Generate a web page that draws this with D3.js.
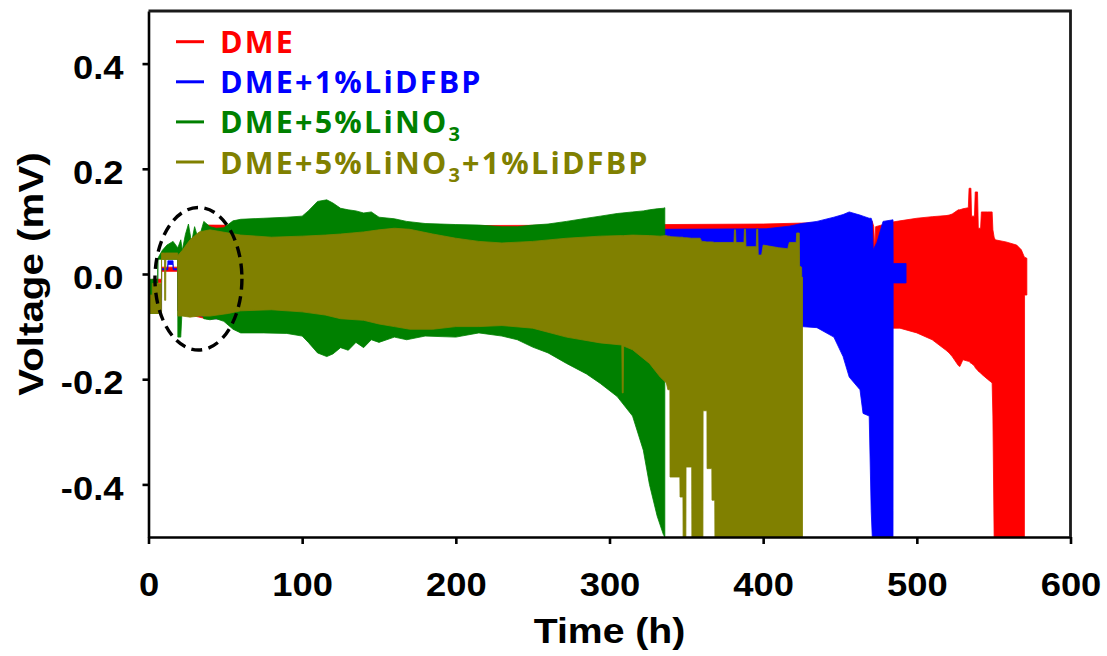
<!DOCTYPE html>
<html>
<head>
<meta charset="utf-8">
<script src="https://cdn.jsdelivr.net/npm/d3@7"></script>
<style>
  html, body { margin: 0; padding: 0; background: #ffffff; }
  svg { display: block; }
</style>
</head>
<body>
<svg id="chart" width="1107" height="656"></svg>
<script>
// ---- data -------------------------------------------------------------
// Each cycling trace is stored as its voltage envelope: [time (h), upper (mV), lower (mV)]
const seriesNames  = ["DME", "DME+1%LiDFBP", "DME+5%LiNO3", "DME+5%LiNO3+1%LiDFBP"];
const seriesColors = ["#ff0000", "#0000ff", "#008000", "#808000"];

const xTicks = [0, 100, 200, 300, 400, 500, 600];
const yTicks = [-0.4, -0.2, 0.0, 0.2, 0.4];
const xTickLabels = ["0", "100", "200", "300", "400", "500", "600"];
const yTickLabels = ["-0.4", "-0.2", "0.0", "0.2", "0.4"];

const dmeEnvelope = [
  [0, -0.012, -0.04], [2.5, -0.012, -0.04], [2.5, -0.01, -0.016], [8.5, -0.01, -0.016],
  [8.5, 0.013, 0.005], [19, 0.013, 0.005], [19.2, 0.02, -0.07], [30, 0.06, -0.08],
  [37.5, 0.07, -0.085], [38, 0.093, -0.085], [100, 0.092, -0.085], [200, 0.092, -0.09],
  [300, 0.093, -0.09], [336, 0.094, -0.09], [400, 0.095, -0.09], [470, 0.1, -0.09],
  [471, 0.1, -0.09], [472, 0.09, -0.09], [472.6, 0.046, -0.09], [473.2, 0.09, -0.09],
  [484.5, 0.099, -0.103], [489, 0.101, -0.103], [500, 0.106, -0.112], [510, 0.109, -0.125],
  [519, 0.111, -0.145], [521, 0.112, -0.15], [523, 0.114, -0.157], [527, 0.122, -0.174],
  [528, 0.122, -0.176], [530, 0.124, -0.163], [533.5, 0.126, -0.166], [534, 0.163, -0.166],
  [535.2, 0.163, -0.17], [535.6, 0.11, -0.17], [537.5, 0.11, -0.175], [538, 0.156, -0.178],
  [539.5, 0.156, -0.183], [540, 0.087, -0.185], [541.5, 0.087, -0.188], [542, 0.118, -0.19],
  [546, 0.118, -0.2], [549, 0.118, -0.207], [549.5, 0.084, -0.27], [550.3, 0.07, -0.5],
  [551, 0.065, -0.5], [558, 0.061, -0.5], [565, 0.055, -0.5], [568, 0.046, -0.5],
  [570, 0.032, -0.5], [570.1, 0.032, -0.04], [571.6, 0.03, -0.04]
];

const lidfbpEnvelope = [
  [0, -0.045, -0.07], [8.5, -0.045, -0.07], [8.5, 0.01, 0.008], [12.5, 0.01, 0.008],
  [12.6, 0.025, 0.018], [16, 0.025, 0.018], [16.1, 0.01, 0.008], [19, 0.01, 0.008],
  [19.2, 0.03, -0.07], [38, 0.07, -0.082], [40, 0.085, -0.085], [200, 0.085, -0.09],
  [336, 0.085, -0.095], [402, 0.086, -0.098], [417, 0.091, -0.1], [425, 0.096, -0.1],
  [435, 0.1, -0.102], [446, 0.108, -0.12], [452, 0.113, -0.157], [456, 0.118, -0.196],
  [463, 0.112, -0.22], [465, 0.11, -0.265], [469, 0.106, -0.27], [470.3, 0.106, -0.45],
  [471, 0.1, -0.5], [471.6, 0.046, -0.5], [474, 0.06, -0.5], [478, 0.1, -0.5],
  [484.5, 0.103, -0.5], [484.6, 0.02, -0.017], [493, 0.02, -0.017]
];

const linoEnvelope = [
  [0, -0.01, -0.075], [6, -0.01, -0.075], [6.1, 0.03, 0.028], [9, 0.045, 0.028],
  [12, 0.055, 0.028], [16, 0.062, 0.028], [19, 0.05, 0.028], [19.1, 0.05, -0.12],
  [21, 0.065, -0.12], [22, 0.045, -0.06], [24, 0.075, -0.065], [26, 0.095, -0.055],
  [28, 0.06, -0.06], [30, 0.09, -0.06], [32, 0.07, -0.06], [34, 0.08, -0.07],
  [36, 0.1, -0.085], [40, 0.09, -0.087], [44, 0.087, -0.085], [49, 0.088, -0.09],
  [55, 0.101, -0.105], [60, 0.104, -0.112], [75, 0.106, -0.112], [90, 0.108, -0.113],
  [100, 0.11, -0.118], [104, 0.12, -0.13], [110, 0.138, -0.15], [116, 0.141, -0.157],
  [120, 0.135, -0.152], [125, 0.125, -0.14], [130, 0.122, -0.145], [135, 0.12, -0.13],
  [140, 0.116, -0.14], [145, 0.118, -0.125], [150, 0.108, -0.13], [160, 0.105, -0.12],
  [168, 0.1, -0.125], [180, 0.096, -0.118], [200, 0.094, -0.12], [215, 0.093, -0.112],
  [230, 0.09, -0.118], [240, 0.09, -0.125], [250, 0.093, -0.139], [260, 0.095, -0.15],
  [272, 0.1, -0.17], [285, 0.106, -0.19], [294, 0.11, -0.208], [305, 0.115, -0.233],
  [315, 0.118, -0.27], [322, 0.12, -0.335], [326, 0.122, -0.4], [331, 0.124, -0.46],
  [335, 0.125, -0.495], [336, 0.126, -0.5]
];

const comboEnvelope = [
  [0, -0.04, -0.075], [2.5, -0.04, -0.075], [2.5, -0.018, -0.075], [8.5, -0.018, -0.075],
  [8.5, 0.04, 0.028], [10.4, 0.04, 0.028], [10.5, 0.04, -0.05], [11.2, 0.04, -0.05],
  [11.3, 0.04, 0.028], [19, 0.04, 0.028], [19.1, 0.035, -0.08], [22, 0.045, -0.08],
  [27, 0.065, -0.082], [33, 0.08, -0.08], [40, 0.084, -0.08], [52, 0.078, -0.075],
  [60, 0.074, -0.07], [80, 0.07, -0.068], [100, 0.072, -0.072], [115, 0.074, -0.078],
  [125, 0.076, -0.085], [140, 0.08, -0.088], [150, 0.084, -0.095], [160, 0.087, -0.1],
  [170, 0.085, -0.105], [185, 0.076, -0.105], [200, 0.068, -0.1], [215, 0.062, -0.1],
  [230, 0.059, -0.098], [250, 0.062, -0.103], [272, 0.068, -0.12], [294, 0.072, -0.131],
  [308, 0.073, -0.135], [308.3, 0.073, -0.226], [308.9, 0.073, -0.226], [309.2, 0.073, -0.137],
  [315, 0.074, -0.144], [326, 0.073, -0.17], [333, 0.072, -0.196], [337, 0.073, -0.207],
  [338, 0.072, -0.22], [339.3, 0.072, -0.22], [339.4, 0.071, -0.386], [345.8, 0.07, -0.386],
  [345.9, 0.07, -0.424], [347.8, 0.07, -0.424], [347.9, 0.069, -0.5], [349.7, 0.069, -0.5],
  [349.8, 0.069, -0.367], [353.5, 0.068, -0.367], [353.6, 0.068, -0.5], [359, 0.068, -0.5],
  [360, 0.062, -0.5], [360.8, 0.062, -0.5], [360.9, 0.062, -0.26], [363.4, 0.061, -0.26],
  [363.5, 0.061, -0.37], [366.6, 0.061, -0.37], [366.7, 0.061, -0.43], [368.5, 0.06, -0.43],
  [368.6, 0.06, -0.5], [381, 0.06, -0.5], [381.3, 0.084, -0.5], [382, 0.084, -0.5],
  [382.3, 0.06, -0.5], [387.5, 0.06, -0.5], [387.8, 0.085, -0.5], [388.5, 0.085, -0.5],
  [388.8, 0.052, -0.5], [395.5, 0.052, -0.5], [395.8, 0.085, -0.5], [396.5, 0.085, -0.5],
  [396.8, 0.036, -0.5], [399, 0.036, -0.5], [400, 0.055, -0.5], [410, 0.05, -0.5],
  [416, 0.048, -0.5], [417, 0.06, -0.5], [421.5, 0.06, -0.5], [421.8, 0.078, -0.5],
  [423.5, 0.078, -0.5], [423.7, 0.015, -0.5], [425, 0.013, -0.5], [425.1, -0.005, -0.5],
  [425.6, -0.006, -0.5]
];

const envelopes = [dmeEnvelope, lidfbpEnvelope, linoEnvelope, comboEnvelope];

// dashed ellipse marking the early-cycle region: centre (h, mV) and radii (h, mV)
const markCenter = [32.5, -0.009];
const markRadius = [28.3, 0.1355];

// ---- layout -----------------------------------------------------------
const svg = d3.select("#chart");
const plot = { left: 148.5, right: 1070.5, top: 11, bottom: 537 };

const x = d3.scaleLinear().domain([0, 600]).range([plot.left, plot.right]);
const y = d3.scaleLinear().domain([-0.5, 0.5]).range([plot.bottom, plot.top]);

svg.append("defs").append("clipPath").attr("id", "plot-clip")
  .append("rect")
  .attr("x", plot.left).attr("y", plot.top)
  .attr("width", plot.right - plot.left).attr("height", plot.bottom - plot.top);

// ---- envelopes --------------------------------------------------------
const area = d3.area()
  .x(d => x(d[0]))
  .y0(d => y(d[2]))
  .y1(d => y(d[1]))
  .curve(d3.curveLinear);

const traces = svg.append("g").attr("clip-path", "url(#plot-clip)");
envelopes.forEach((env, i) => {
  traces.append("path")
    .datum(env)
    .attr("d", area)
    .attr("fill", seriesColors[i])
    .attr("stroke", seriesColors[i])
    .attr("stroke-width", 0.8)
    .attr("stroke-linejoin", "miter");
});

// dashed ellipse
svg.append("ellipse")
  .attr("cx", x(markCenter[0]))
  .attr("cy", y(markCenter[1]))
  .attr("rx", x(markRadius[0]) - x(0))
  .attr("ry", y(0) - y(markRadius[1]))
  .attr("fill", "none")
  .attr("stroke", "#000")
  .attr("stroke-width", 3.4)
  .attr("stroke-dasharray", "11 6.5");

// ---- axes -------------------------------------------------------------
const tickFont = "'Liberation Sans', Arial, sans-serif";
const stretch = 1.12;

const xAxis = svg.append("g")
  .attr("transform", `translate(0,${plot.bottom})`)
  .call(d3.axisBottom(x).tickValues(xTicks).tickSize(7).tickSizeOuter(0)
    .tickFormat((d, i) => xTickLabels[i]));
xAxis.selectAll("text")
  .attr("y", 0).attr("dy", null)
  .attr("transform", `translate(0,59) scale(${stretch},1)`)
  .attr("fill", "#000")
  .style("font-family", tickFont).style("font-weight", "bold").style("font-size", "32.5px");

const yAxis = svg.append("g")
  .attr("transform", `translate(${plot.left},0)`)
  .call(d3.axisLeft(y).tickValues(yTicks).tickSize(6).tickSizeOuter(0)
    .tickFormat((d, i) => yTickLabels[i]));
yAxis.selectAll("text")
  .attr("x", 0).attr("dy", null).attr("y", 0)
  .attr("text-anchor", "end")
  .attr("transform", `translate(-25,14.7) scale(${stretch},1)`)
  .attr("fill", "#000")
  .style("font-family", tickFont).style("font-weight", "bold").style("font-size", "32.5px");

svg.selectAll(".domain, .tick line").attr("stroke", "#000").attr("stroke-width", 2.6);

// top and right border of the frame
svg.append("path")
  .attr("d", `M${plot.left},${plot.top}H${plot.right}V${plot.bottom}`)
  .attr("fill", "none").attr("stroke", "#1a1a1a").attr("stroke-width", 2.8);

// axis titles
svg.append("text")
  .attr("transform", `translate(${(plot.left + plot.right) / 2},643) scale(${stretch},1)`)
  .attr("text-anchor", "middle")
  .style("font-family", tickFont).style("font-weight", "bold").style("font-size", "35px")
  .text("Time (h)");

svg.append("text")
  .attr("transform", `translate(43,${(plot.top + plot.bottom) / 2}) rotate(-90) scale(${stretch},1)`)
  .attr("text-anchor", "middle")
  .style("font-family", tickFont).style("font-weight", "bold").style("font-size", "36px")
  .text("Voltage (mV)");

// ---- legend -----------------------------------------------------------
const legendFont = "'Open Sans', 'Noto Sans', sans-serif";
const legend = svg.append("g");
seriesNames.forEach((name, i) => {
  const row = legend.append("g").attr("transform", `translate(0,${41.7 + i * 40.1})`);
  row.append("line")
    .attr("x1", 176).attr("x2", 204).attr("y1", 0).attr("y2", 0)
    .attr("stroke", seriesColors[i]).attr("stroke-width", 3);
  const t = row.append("text")
    .attr("x", 220).attr("y", 11.5)
    .attr("fill", seriesColors[i])
    .style("font-family", legendFont).style("font-weight", "bold")
    .style("font-size", "30.5px").style("letter-spacing", "2.2px");
  // chemical formula: render the digit after "NO" as a subscript
  const parts = name.split(/(NO3)/).filter(p => p.length);
  let lowered = false;
  parts.forEach(p => {
    if (p === "NO3") {
      t.append("tspan").text("NO");
      t.append("tspan").attr("dy", 8).style("font-size", "20px").text("3");
      lowered = true;
    } else {
      t.append("tspan").attr("dy", lowered ? -8 : null).text(p);
      lowered = false;
    }
  });
});
</script>
</body>
</html>
